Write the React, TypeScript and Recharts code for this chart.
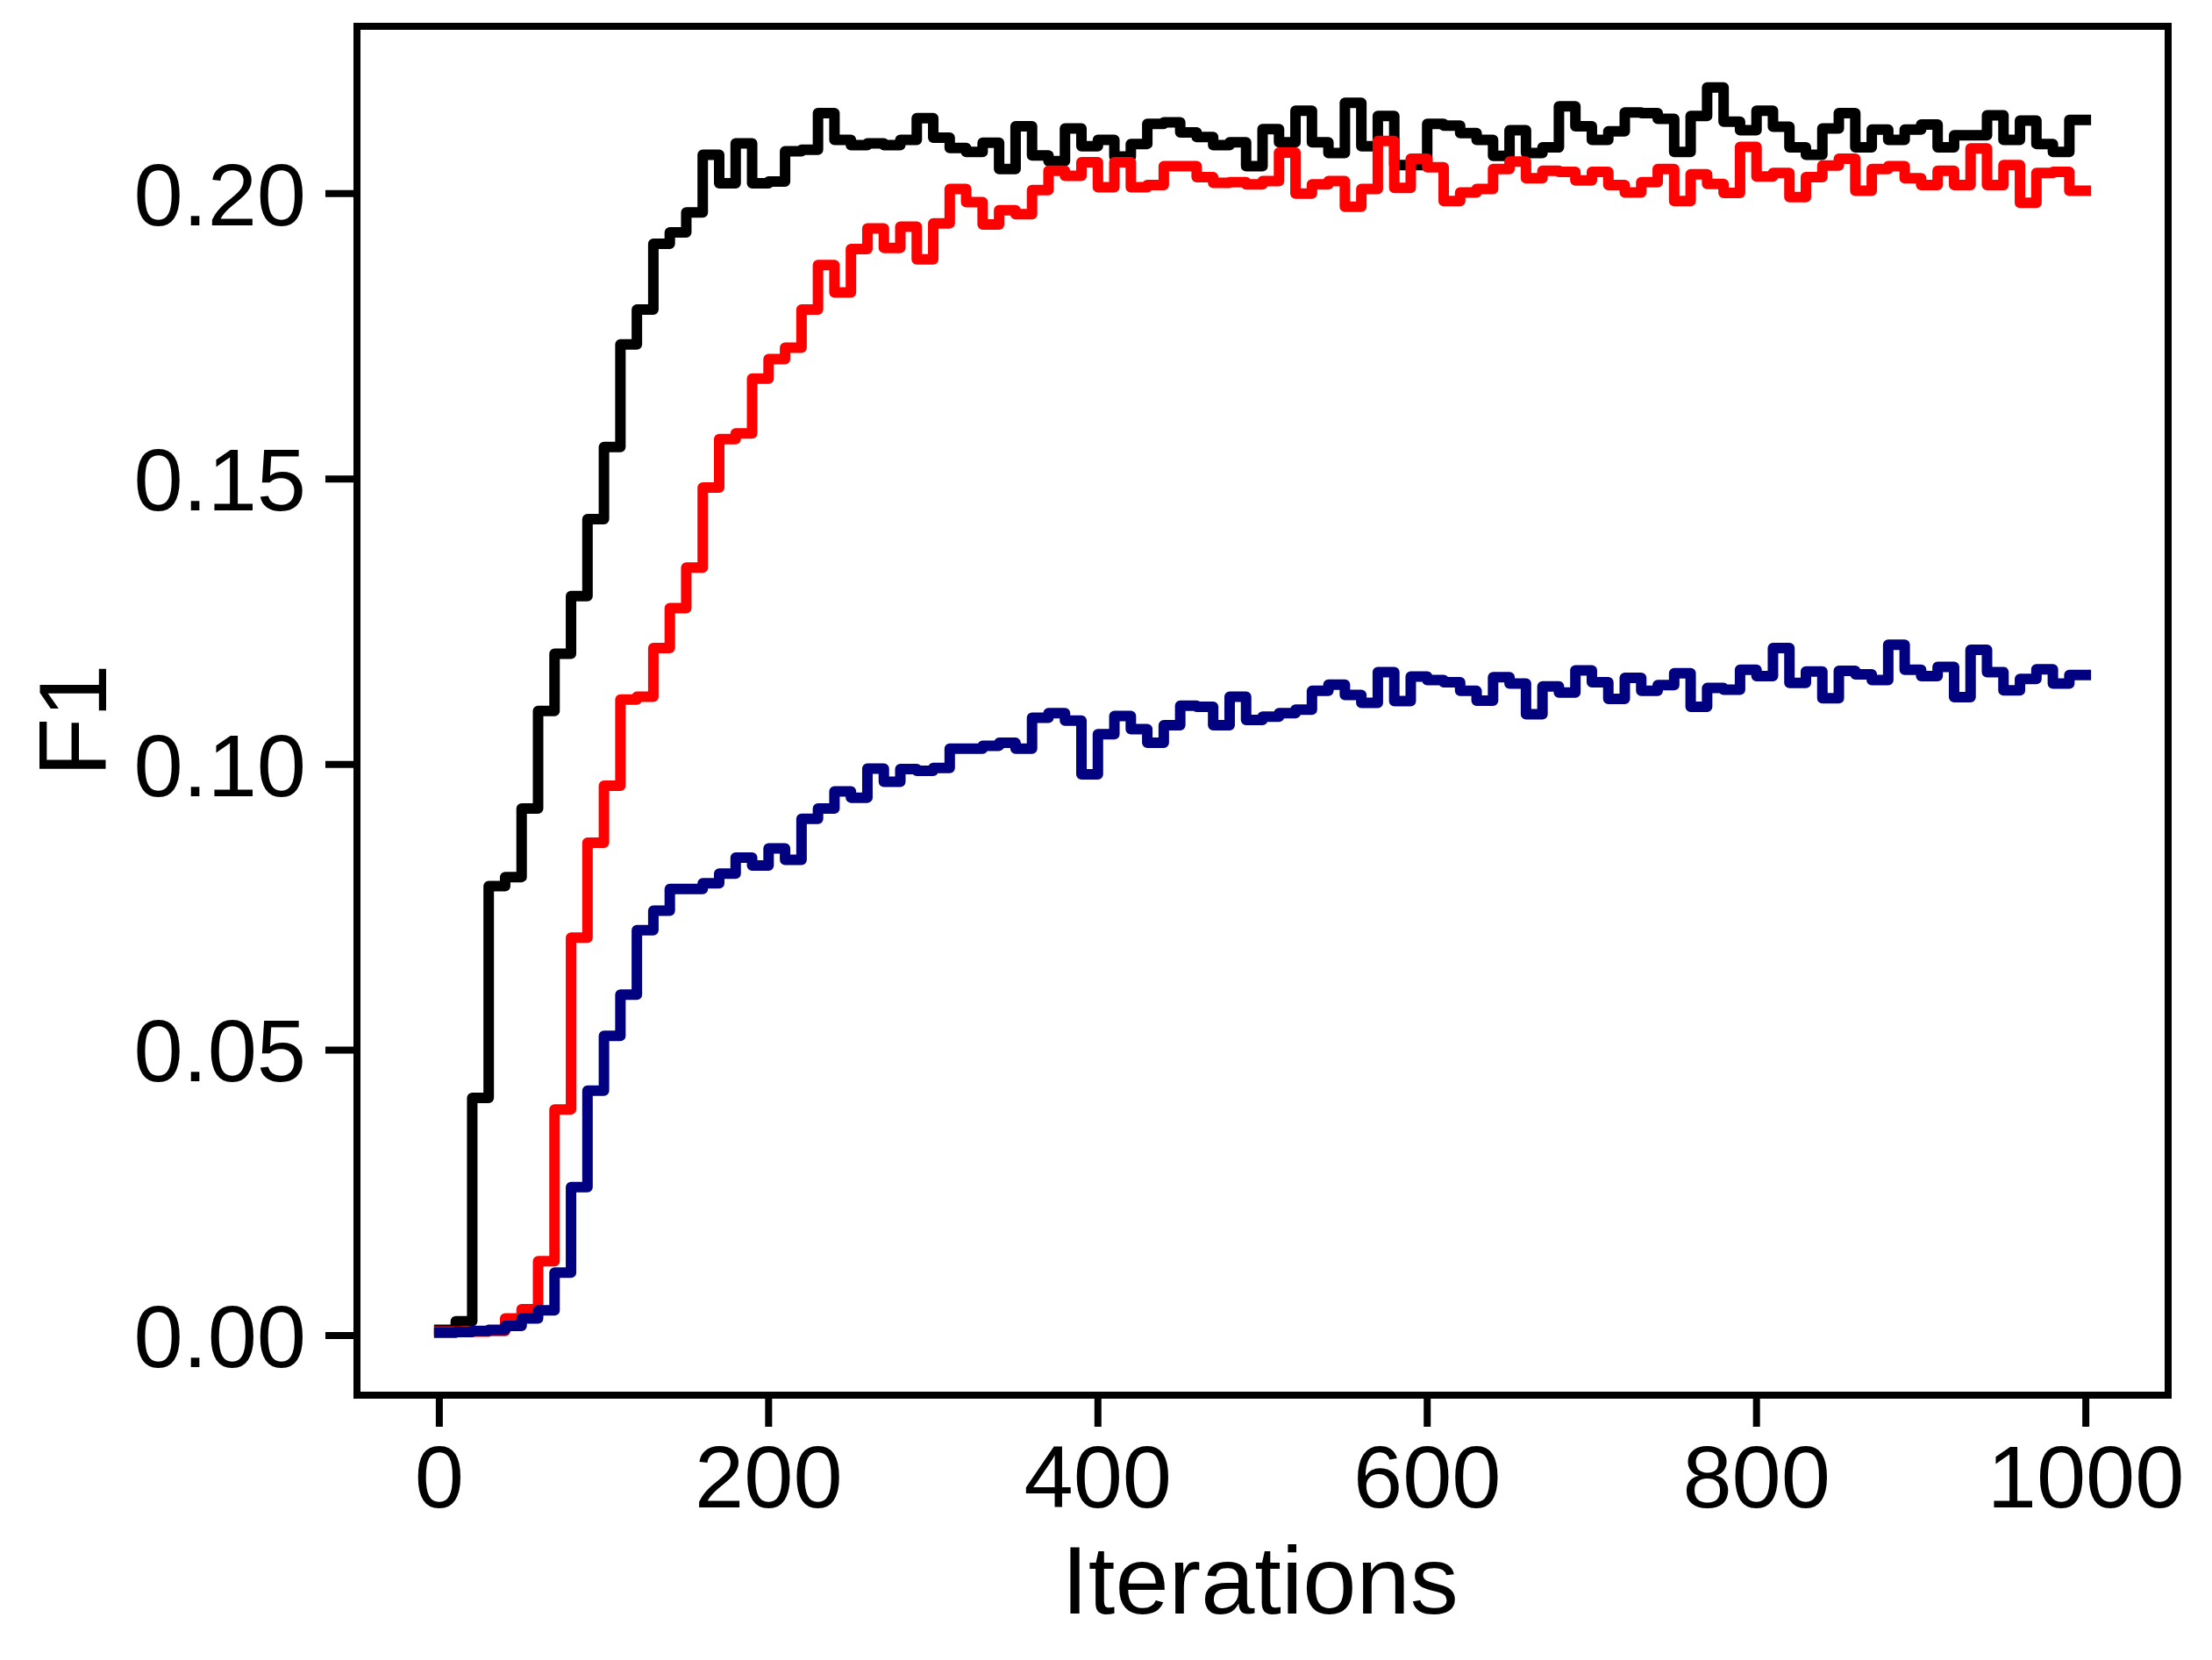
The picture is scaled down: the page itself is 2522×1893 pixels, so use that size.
import React from 'react';
import { LineChart, Line, XAxis, YAxis, ReferenceArea } from 'recharts';

const FONT = '"Liberation Sans", Arial, Helvetica, sans-serif';

// iteration at which each step starts (one value every 10 iterations)
const iterations = [
  0, 10, 20, 30, 40, 50, 60, 70, 80, 90,
  100, 110, 120, 130, 140, 150, 160, 170, 180, 190,
  200, 210, 220, 230, 240, 250, 260, 270, 280, 290,
  300, 310, 320, 330, 340, 350, 360, 370, 380, 390,
  400, 410, 420, 430, 440, 450, 460, 470, 480, 490,
  500, 510, 520, 530, 540, 550, 560, 570, 580, 590,
  600, 610, 620, 630, 640, 650, 660, 670, 680, 690,
  700, 710, 720, 730, 740, 750, 760, 770, 780, 790,
  800, 810, 820, 830, 840, 850, 860, 870, 880, 890,
  900, 910, 920, 930, 940, 950, 960, 970, 980, 990,
  1000,
];

const f1Black = [
  0.001, 0.0025, 0.0416, 0.0787, 0.0803, 0.0923, 0.1094, 0.1194, 0.1295, 0.143,
  0.1556, 0.1736, 0.1797, 0.1912, 0.1932, 0.1967, 0.2068, 0.2018, 0.2088, 0.2018,
  0.2021, 0.2074, 0.2077, 0.2141, 0.2094, 0.2085, 0.2088, 0.2085, 0.2094, 0.2132,
  0.2098, 0.208, 0.2073, 0.2089, 0.2043, 0.2118, 0.2067, 0.2057, 0.2114, 0.2083,
  0.2094, 0.2065, 0.2087, 0.2122, 0.2125, 0.2107, 0.2099, 0.2085, 0.209, 0.2048,
  0.2113, 0.209, 0.2145, 0.209, 0.2071, 0.2159, 0.2083, 0.2136, 0.205, 0.205,
  0.2122, 0.2119, 0.2106, 0.2094, 0.2066, 0.2111, 0.2071, 0.2081, 0.2153, 0.2118,
  0.2094, 0.2109, 0.2142, 0.2141, 0.2131, 0.2073, 0.2136, 0.2186, 0.2126, 0.2111,
  0.2145, 0.2117, 0.2081, 0.2068, 0.2114, 0.2141, 0.2081, 0.2112, 0.2094, 0.2112,
  0.2121, 0.2081, 0.2102, 0.2102, 0.2137, 0.2094, 0.2128, 0.2087, 0.2073, 0.2129,
  0.2129,
];

const f1Red = [
  0.0007, 0.0007, 0.0007, 0.0008, 0.003, 0.0046, 0.013, 0.0396, 0.0697, 0.0863,
  0.0963, 0.1114, 0.1119, 0.1204, 0.1274, 0.1345, 0.1485, 0.157, 0.158, 0.1676,
  0.171, 0.173, 0.1797, 0.1875, 0.1827, 0.1903, 0.1939, 0.1905, 0.1942, 0.1885,
  0.1948, 0.2008, 0.1985, 0.1946, 0.1971, 0.1964, 0.2006, 0.204, 0.2031, 0.2055,
  0.2011, 0.2055, 0.2011, 0.2015, 0.2048, 0.2048, 0.2029, 0.2019, 0.202, 0.2016,
  0.2022, 0.2072, 0.2, 0.2016, 0.2022, 0.1977, 0.2008, 0.2092, 0.201, 0.2061,
  0.2046, 0.1987, 0.2002, 0.2008, 0.2043, 0.2056, 0.2027, 0.204, 0.2038, 0.2023,
  0.2038, 0.2015, 0.2002, 0.202, 0.2043, 0.1987, 0.2034, 0.2017, 0.2001, 0.2082,
  0.203, 0.2036, 0.1994, 0.2029, 0.2049, 0.2061, 0.2005, 0.2043, 0.2048, 0.2027,
  0.2015, 0.204, 0.2015, 0.2079, 0.2015, 0.205, 0.1984, 0.2036, 0.2038, 0.2005,
  0.2005,
];

const f1Navy = [
  0.0005, 0.0006, 0.0008, 0.001, 0.0017, 0.003, 0.0044, 0.011, 0.026, 0.0429,
  0.0525, 0.0597, 0.071, 0.0744, 0.0782, 0.0782, 0.0792, 0.0809, 0.0837, 0.0823,
  0.0853, 0.0833, 0.0905, 0.0923, 0.0953, 0.0942, 0.0993, 0.097, 0.0992, 0.0989,
  0.0994, 0.1028, 0.1028, 0.1033, 0.1038, 0.1028, 0.1082, 0.109, 0.1077, 0.0983,
  0.1053, 0.1085, 0.1062, 0.1038, 0.1069, 0.1103, 0.1101, 0.1069, 0.1119, 0.1078,
  0.1084, 0.109, 0.1096, 0.1129, 0.114, 0.1122, 0.1108, 0.1162, 0.1111, 0.1154,
  0.1148, 0.1144, 0.1129, 0.1112, 0.1153, 0.1142, 0.1088, 0.1137, 0.1126, 0.1165,
  0.1144, 0.1115, 0.1152, 0.1129, 0.1139, 0.116, 0.1101, 0.1134, 0.1131, 0.1166,
  0.1155, 0.1204, 0.1143, 0.1163, 0.1116, 0.1164, 0.1158, 0.1148, 0.121, 0.1166,
  0.1155, 0.1171, 0.1118, 0.1201, 0.1162, 0.113, 0.115, 0.1167, 0.1142, 0.1157,
  0.1157,
];

const xTicks = [0, 200, 400, 600, 800, 1000];
const yTicks = [0, 0.05, 0.1, 0.15, 0.2];
const xDomain = [-50, 1050];
const yDomain = [-0.01045, 0.2293];

const data = iterations.map((it, i) => ({
  it,
  black: f1Black[i],
  red: f1Red[i],
  navy: f1Navy[i],
}));

const tickStyle = { fontFamily: FONT, fontSize: 101, fill: '#000' };
const tickLineStyle = { stroke: '#000', strokeWidth: 8 };

const YLabel = (props: any) => {
  const vb = props.viewBox ?? { x: 0, y: 30, width: 407, height: 1561 };
  const cx = vb.x + 121;
  const cy = vb.y + vb.height / 2 + 11;
  return (
    <text
      x={cx}
      y={cy}
      transform={`rotate(-90, ${cx}, ${cy})`}
      textAnchor="middle"
      fontFamily={FONT}
      fontSize={110}
      fill="#000"
    >
      F1
    </text>
  );
};

const XLabel = (props: any) => {
  const vb = props.viewBox ?? { x: 407, y: 1591, width: 2065, height: 302 };
  const cx = vb.x + vb.width / 2 - 3;
  const y = vb.y + 249;
  return (
    <text x={cx} y={y} textAnchor="middle" fontFamily={FONT} fontSize={110} fill="#000">
      Iterations
    </text>
  );
};

export default function App() {
  const lineProps = {
    type: 'stepAfter' as const,
    strokeWidth: 12,
    dot: false,
    activeDot: false,
    isAnimationActive: false,
    strokeLinejoin: 'round' as const,
    strokeLinecap: 'square' as const,
  };
  return (
    <div style={{ width: 2522, height: 1893, background: '#fff' }}>
      <style>{'body{margin:0;background:#fff}'}</style>
      <LineChart
        width={2522}
        height={1893}
        data={data}
        margin={{ top: 30, right: 50, bottom: 0, left: 0 }}
      >
        <XAxis
          dataKey="it"
          type="number"
          domain={xDomain}
          ticks={xTicks}
          interval={0}
          allowDataOverflow
          axisLine={false}
          tickSize={36}
          tickMargin={20}
          tickLine={tickLineStyle}
          tick={tickStyle}
          height={302}
          label={<XLabel />}
        />
        <YAxis
          type="number"
          domain={yDomain}
          ticks={yTicks}
          interval={0}
          allowDataOverflow
          axisLine={false}
          tickSize={36}
          tickMargin={22}
          tickLine={tickLineStyle}
          tick={tickStyle}
          tickFormatter={(v: number) => v.toFixed(2)}
          width={407}
          label={<YLabel />}
        />
        <Line {...lineProps} dataKey="black" stroke="#000000" />
        <Line {...lineProps} dataKey="red" stroke="#ff0000" />
        <Line {...lineProps} dataKey="navy" stroke="#000080" />
        <ReferenceArea
          x1={xDomain[0]}
          x2={xDomain[1]}
          y1={yDomain[0]}
          y2={yDomain[1]}
          fill="none"
          stroke="#000"
          strokeWidth={8}
          ifOverflow="visible"
        />
      </LineChart>
    </div>
  );
}
